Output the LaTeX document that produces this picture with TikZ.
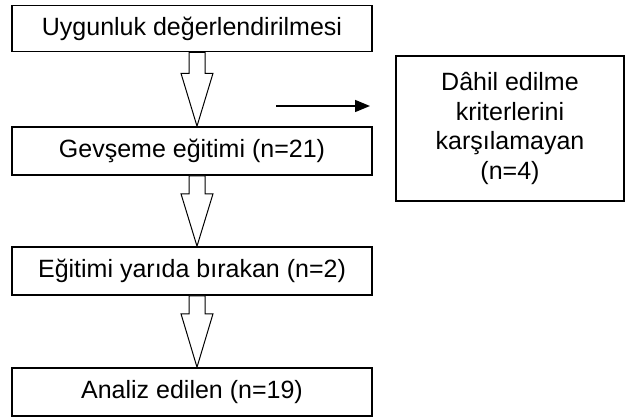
\documentclass[tikz,border=0pt]{standalone}
\usepackage{fontspec}
\setmainfont{Liberation Sans}
\usetikzlibrary{arrows.meta,calc}
\tikzset{
  x=1pt,y=-1pt,
  stepbox/.style={draw,line width=1.6pt,rectangle,minimum width=360pt,inner sep=0pt,
    font=\fontsize{25}{29}\selectfont},
  sidebox/.style={draw,line width=1.3pt,rectangle,minimum width=228pt,minimum height=145pt,inner sep=0pt,
    align=center,font=\fontsize{25}{29.5}\selectfont},
  blkarrow/.style={draw,line width=1pt,fill=white,line join=miter},
}
\newcommand\mkblockarrow[3]{%
  \path let \p1=(#1.south), \p2=(#2.north) in
    [blkarrow] (189pt,\y1) -- (205pt,\y1) -- (205pt,{\y1-#3pt}) -- (213pt,{\y1-#3pt})
    -- (197pt,\y2) -- (181pt,{\y1-#3pt}) -- (189pt,{\y1-#3pt}) -- cycle;}
\begin{document}
\begin{tikzpicture}
\useasboundingbox (0,0) rectangle (625,417);
\node[stepbox,minimum height=46pt] (b1) at (192,28.5) {Uygunluk değerlendirilmesi};
\node[stepbox,minimum height=48pt] (b2) at (192,151) {Gevşeme eğitimi (n=21)};
\node[stepbox,minimum height=48pt] (b3) at (192,271) {Eğitimi yarıda bırakan (n=2)};
\node[stepbox,minimum height=48pt] (b4) at (192,392) {Analiz edilen (n=19)};
\node[sidebox] (r) at (510,128.5) {Dâhil edilme\\kriterlerini\\karşılamayan\\(n=4)};
\mkblockarrow{b1}{b2}{21}
\mkblockarrow{b2}{b3}{18}
\mkblockarrow{b3}{b4}{18}
\coordinate (hs) at (276,106);
\coordinate (he) at (370,106);
\draw[line width=1.5pt,-{Triangle[length=15pt,width=12pt]}] (hs) -- (he);
\end{tikzpicture}
\end{document}
